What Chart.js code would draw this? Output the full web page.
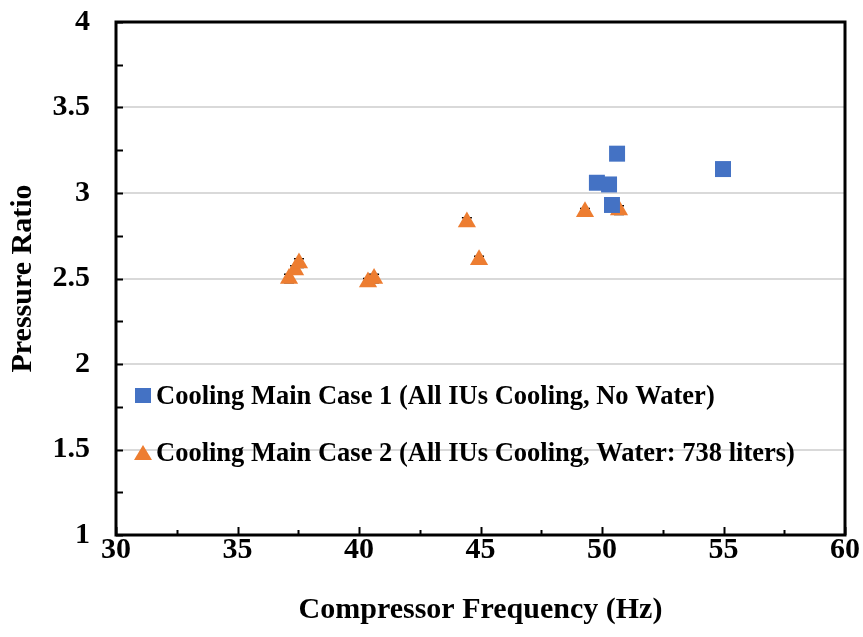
<!DOCTYPE html>
<html>
<head>
<meta charset="utf-8">
<script src="https://cdn.jsdelivr.net/npm/chart.js@4/dist/chart.umd.min.js"></script>
<style>
html,body{margin:0;padding:0;background:#fff;}
#wrap{width:863px;height:637px;position:relative;}
</style>
</head>
<body>
<div id="wrap"><canvas id="c" width="863" height="637"></canvas></div>
<script>
// ---- data ----
const case1Label = "Cooling Main Case 1 (All IUs Cooling, No Water)";
const case1Freq  = [50.62, 49.79, 50.29, 50.41, 54.98];
const case1Ratio = [3.23, 3.06, 3.05, 2.93, 3.14];

const case2Label = "Cooling Main Case 2 (All IUs Cooling, Water: 738 liters)";
const case2Freq  = [37.12, 37.37, 37.53, 40.37, 40.62, 44.44, 44.94, 49.30, 50.70];
const case2Ratio = [2.50, 2.55, 2.59, 2.48, 2.50, 2.83, 2.61, 2.89, 2.90];
const case2Err   = [0.025, 0.025, 0.025, 0.02, 0.025, 0.025, 0.02, 0.02, 0.025];

const xTitle = "Compressor Frequency (Hz)";
const yTitle = "Pressure Ratio";
const xMin = 30, xMax = 60, xStep = 5;
const yMin = 1, yMax = 4, yStep = 0.5;

const FONT = "'Liberation Serif', 'Times New Roman', serif";
const BLUE = "#4472C4";
const ORANGE = "#ED7D31";

const toPts = (xs, ys) => xs.map((x, i) => ({x: x, y: ys[i]}));

// error bars (drawn beneath markers)
const errPlugin = {
  id: 'errbars',
  beforeDatasetsDraw(chart) {
    const ctx = chart.ctx;
    const xs = chart.scales.x, ys = chart.scales.y;
    ctx.save();
    ctx.strokeStyle = '#000';
    ctx.lineWidth = 1.5;
    case2Freq.forEach((f, i) => {
      const px = xs.getPixelForValue(f);
      const top = ys.getPixelForValue(case2Ratio[i] + case2Err[i]);
      const bot = ys.getPixelForValue(case2Ratio[i] - case2Err[i]);
      ctx.beginPath();
      ctx.moveTo(px, top); ctx.lineTo(px, bot);
      ctx.moveTo(px - 5, top); ctx.lineTo(px + 5, top);
      ctx.moveTo(px - 5, bot); ctx.lineTo(px + 5, bot);
      ctx.stroke();
    });
    ctx.restore();
  }
};

// frame, inward ticks, legend
const framePlugin = {
  id: 'frame',
  afterDraw(chart) {
    const ctx = chart.ctx;
    const a = chart.chartArea;
    const xs = chart.scales.x, ys = chart.scales.y;
    ctx.save();
    ctx.strokeStyle = '#000';
    ctx.lineWidth = 2;
    for (let v = xMin; v <= xMax + 1e-9; v += xStep / 2) {
      const px = Math.round(xs.getPixelForValue(v)) + 0.5;
      const major = Math.abs((v - xMin) % xStep) < 1e-9;
      const len = major ? 8 : 5;
      ctx.beginPath(); ctx.moveTo(px, a.bottom); ctx.lineTo(px, a.bottom - len); ctx.stroke();
    }
    for (let v = yMin; v <= yMax + 1e-9; v += yStep / 2) {
      const py = Math.round(ys.getPixelForValue(v)) + 0.5;
      ctx.beginPath(); ctx.moveTo(a.left, py); ctx.lineTo(a.left + 7, py); ctx.stroke();
    }
    ctx.lineWidth = 3;
    ctx.strokeRect(a.left, a.top, a.right - a.left, a.bottom - a.top);
    // legend
    ctx.font = "bold 26.5px " + FONT;
    ctx.textBaseline = 'alphabetic';
    ctx.fillStyle = BLUE;
    ctx.fillRect(135, 388, 16, 15);
    ctx.fillStyle = '#000';
    ctx.fillText(case1Label, 156, 404);
    ctx.fillStyle = ORANGE;
    ctx.beginPath();
    ctx.moveTo(143, 445); ctx.lineTo(152, 460); ctx.lineTo(134, 460); ctx.closePath(); ctx.fill();
    ctx.fillStyle = '#000';
    ctx.fillText(case2Label, 156, 461);
    ctx.restore();
  }
};

new Chart(document.getElementById('c'), {
  type: 'scatter',
  data: {
    datasets: [
      {
        label: case1Label,
        data: toPts(case1Freq, case1Ratio),
        pointStyle: 'rect',
        pointRadius: 11.3,
        pointHoverRadius: 11.3,
        backgroundColor: BLUE,
        borderColor: BLUE,
        borderWidth: 0
      },
      {
        label: case2Label,
        data: toPts(case2Freq, case2Ratio),
        pointStyle: 'triangle',
        pointRadius: 10.5,
        pointHoverRadius: 10.5,
        backgroundColor: ORANGE,
        borderColor: ORANGE,
        borderWidth: 0
      }
    ]
  },
  options: {
    responsive: false,
    animation: false,
    events: [],
    layout: { padding: { top: 22, right: 18, left: 0, bottom: 0 } },
    plugins: {
      legend: { display: false },
      tooltip: { enabled: false }
    },
    scales: {
      x: {
        type: 'linear',
        min: xMin, max: xMax,
        afterFit(s) { s.height = 102; s.paddingLeft = 0; s.paddingRight = 0; },
        ticks: {
          stepSize: xStep,
          color: '#000',
          padding: -3,
          callback: (v) => String(+v.toFixed(2)),
          font: { family: FONT, size: 30, weight: 'bold' }
        },
        grid: { display: false, drawTicks: false },
        border: { display: false },
        title: {
          display: true,
          text: xTitle,
          color: '#000',
          padding: { top: 0, bottom: 9 },
          font: { family: FONT, size: 30, weight: 'bold' }
        }
      },
      y: {
        type: 'linear',
        min: yMin, max: yMax,
        afterFit(s) { s.width = 116; s.paddingTop = 0; s.paddingBottom = 0; },
        ticks: {
          stepSize: yStep,
          color: '#000',
          padding: 26,
          callback: (v) => String(+v.toFixed(2)),
          font: { family: FONT, size: 30, weight: 'bold' }
        },
        grid: {
          drawTicks: false,
          lineWidth: 2,
          color: (c) => (c.tick && (c.tick.value === yMin || c.tick.value === yMax)) ? 'rgba(0,0,0,0)' : '#d9d9d9'
        },
        border: { display: false },
        title: {
          display: true,
          text: yTitle,
          color: '#000',
          padding: { top: 5, bottom: 0 },
          font: { family: FONT, size: 30, weight: 'bold' }
        }
      }
    }
  },
  plugins: [errPlugin, framePlugin]
});
</script>
</body>
</html>
